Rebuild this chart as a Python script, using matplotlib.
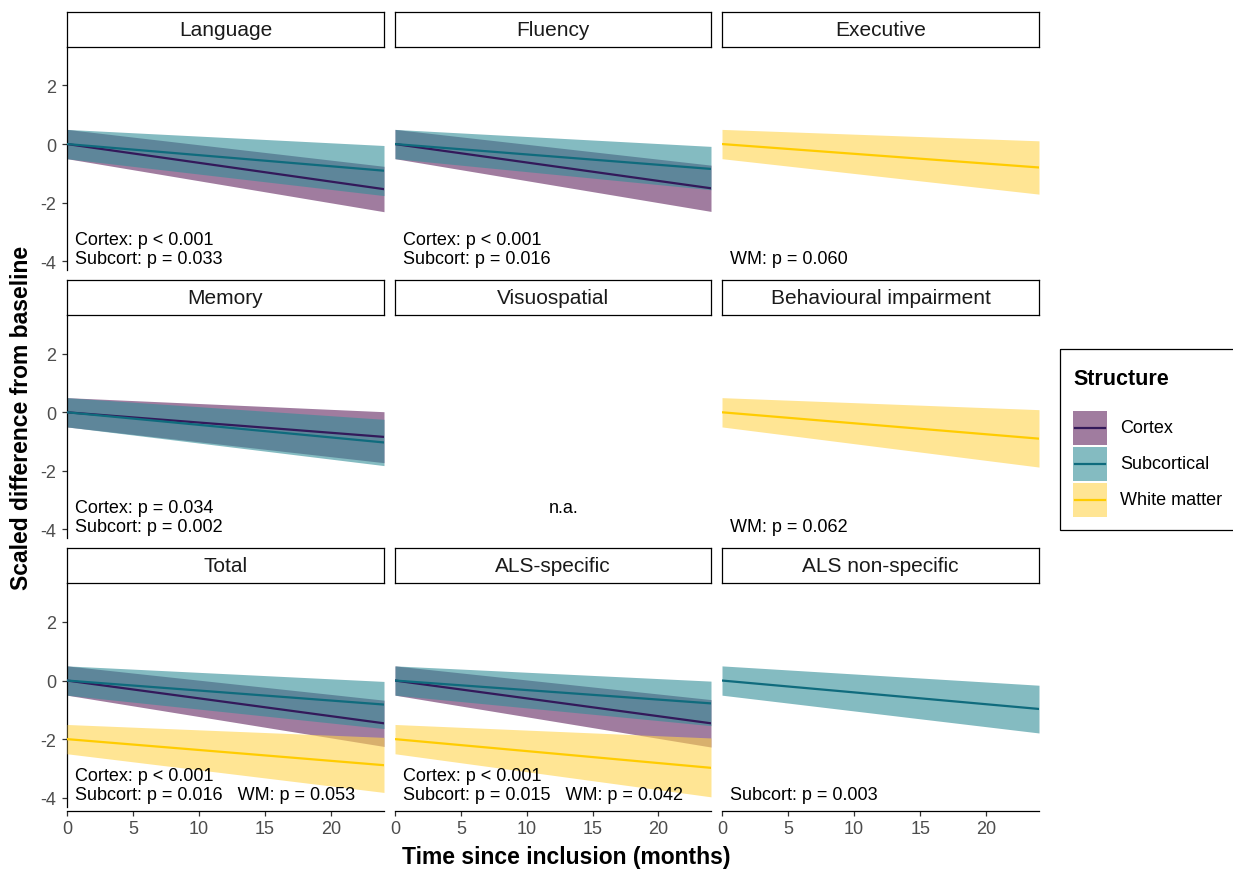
import numpy as np
import matplotlib
matplotlib.use("Agg")
import matplotlib.pyplot as plt
from matplotlib.patches import Rectangle

plt.rcParams['font.family'] = ['Liberation Sans', 'DejaVu Sans']
plt.rcParams['axes.unicode_minus'] = False

nan = np.nan

# facets in reading order
panels = ["Language", "Fluency", "Executive",
          "Memory", "Visuospatial", "Behavioural impairment",
          "Total", "ALS-specific", "ALS non-specific"]
structures = ["Cortex", "Subcortical", "White matter"]
time_points = [0, 24]

# model estimate at baseline / 24 months, with lower and upper CI (nan = not shown)
cortex_start = [0, 0, nan, 0, nan, nan, 0, 0, nan]
cortex_start_lo = [-0.5, -0.5, nan, -0.5, nan, nan, -0.5, -0.5, nan]
cortex_start_hi = [0.5, 0.5, nan, 0.5, nan, nan, 0.5, 0.5, nan]
cortex_end = [-1.54, -1.51, nan, -0.84, nan, nan, -1.46, -1.46, nan]
cortex_end_lo = [-2.31, -2.30, nan, -1.72, nan, nan, -2.25, -2.27, nan]
cortex_end_hi = [-0.76, -0.72, nan, 0.02, nan, nan, -0.67, -0.65, nan]

subcort_start = [0, 0, nan, 0, nan, nan, 0, 0, 0]
subcort_start_lo = [-0.5, -0.5, nan, -0.5, nan, nan, -0.5, -0.5, -0.5]
subcort_start_hi = [0.5, 0.5, nan, 0.5, nan, nan, 0.5, 0.5, 0.5]
subcort_end = [-0.91, -0.85, nan, -1.03, nan, nan, -0.82, -0.78, -0.97]
subcort_end_lo = [-1.76, -1.56, nan, -1.82, nan, nan, -1.64, -1.54, -1.79]
subcort_end_hi = [-0.05, -0.08, nan, -0.24, nan, nan, -0.03, -0.02, -0.16]

wm_start = [nan, nan, 0, nan, nan, 0, -2, -2, nan]
wm_start_lo = [nan, nan, -0.5, nan, nan, -0.5, -2.5, -2.5, nan]
wm_start_hi = [nan, nan, 0.5, nan, nan, 0.5, -1.5, -1.5, nan]
wm_end = [nan, nan, -0.80, nan, nan, -0.90, -2.89, -2.98, nan]
wm_end_lo = [nan, nan, -1.71, nan, nan, -1.87, -3.82, -3.97, nan]
wm_end_hi = [nan, nan, 0.11, nan, nan, 0.09, -1.94, -1.96, nan]

# p-value annotations (two lines per panel)
p_line1 = ["Cortex: p < 0.001", "Cortex: p < 0.001", "",
           "Cortex: p = 0.034", "", "",
           "Cortex: p < 0.001", "Cortex: p < 0.001", ""]
p_line2 = ["Subcort: p = 0.033", "Subcort: p = 0.016", "WM: p = 0.060",
           "Subcort: p = 0.002", "", "WM: p = 0.062",
           "Subcort: p = 0.016   WM: p = 0.053",
           "Subcort: p = 0.015   WM: p = 0.042",
           "Subcort: p = 0.003"]
missing_label = "n.a."

fill_colors = ['#612560', '#328E98', '#FFD44D']
line_colors = ['#33195A', '#0F6B7D', '#FFCC00']
fill_alpha = 0.6

series = [
    (cortex_start, cortex_start_lo, cortex_start_hi, cortex_end, cortex_end_lo, cortex_end_hi),
    (subcort_start, subcort_start_lo, subcort_start_hi, subcort_end, subcort_end_lo, subcort_end_hi),
    (wm_start, wm_start_lo, wm_start_hi, wm_end, wm_end_lo, wm_end_hi),
]

W, H = 1233, 870
fig = plt.figure(figsize=(W / 100, H / 100), dpi=100)


def px_axes(x0, y0, x1, y1):
    return fig.add_axes([x0 / W, 1 - y1 / H, (x1 - x0) / W, (y1 - y0) / H])


col_edges = [(67, 384), (395, 711), (722, 1039)]
strip_tops = [12.5, 280.75, 549]
strip_h = 35
panel_h = 223.5

for i, name in enumerate(panels):
    r, c = divmod(i, 3)
    x0, x1 = col_edges[c]
    st = strip_tops[r]

    # strip
    sax = px_axes(x0, st, x1, st + strip_h)
    sax.set_xticks([])
    sax.set_yticks([])
    for sp in sax.spines.values():
        sp.set_linewidth(0.9)
        sp.set_color('black')
    sax.text(0.5, 0.5, name, ha='center', va='center', fontsize=15,
             color='#1A1A1A', transform=sax.transAxes)

    # panel: all ribbons first, lines on top
    ax = px_axes(x0, st + strip_h, x1, st + strip_h + panel_h)
    ax.set_xlim(0, 24)
    ax.set_ylim(-4.3, 3.33)
    ax.patch.set_alpha(0)
    for k, (s, slo, shi, e, elo, ehi) in enumerate(series):
        if np.isnan(s[i]):
            continue
        ax.fill_between(time_points, [slo[i], elo[i]], [shi[i], ehi[i]],
                        color=fill_colors[k], alpha=fill_alpha, linewidth=0,
                        zorder=1 + k)
        ax.plot(time_points, [s[i], e[i]], color=line_colors[k], linewidth=1.6,
                zorder=5 + k)

    if p_line1[i]:
        ax.text(0.6, -3.25, p_line1[i], fontsize=13, va='center', ha='left', color='black', zorder=10)
    if p_line2[i]:
        ax.text(0.6, -3.9, p_line2[i], fontsize=13, va='center', ha='left', color='black', zorder=10)
    if name == "Visuospatial":
        ax.text(12.8, -3.25, missing_label, fontsize=13, va='center', ha='center', color='black')

    for sp in ax.spines.values():
        sp.set_visible(False)
    ax.tick_params(colors='#333333', labelcolor='#4D4D4D', labelsize=13,
                   length=3.5, width=0.9)
    if c == 0:
        ax.spines['left'].set_visible(True)
        ax.spines['left'].set_linewidth(0.9)
        ax.set_yticks([-4, -2, 0, 2])
        ax.tick_params(axis='y', pad=4)
    else:
        ax.set_yticks([])
    if r == 2:
        ax.spines['bottom'].set_visible(True)
        ax.spines['bottom'].set_linewidth(0.9)
        ax.spines['bottom'].set_position(('outward', 3.5))
        ax.set_xticks([0, 5, 10, 15, 20])
        ax.tick_params(axis='x', pad=3)
    else:
        ax.set_xticks([])

# axis titles
fig.text(566 / W, 1 - 858 / H, "Time since inclusion (months)", ha='center', va='center',
         fontsize=16.5, fontweight='bold')
fig.text(22 / W, 1 - 418 / H, "Scaled difference from baseline", ha='center', va='center',
         fontsize=16.5, fontweight='bold', rotation=90)

# legend drawn in pixel space
lay = fig.add_axes([0, 0, 1, 1], zorder=-1)
lay.set_xlim(0, W)
lay.set_ylim(H, 0)
lay.axis('off')
lay.add_patch(Rectangle((1060, 350), 200, 181, fill=False, edgecolor='black', linewidth=0.9))
lay.text(1073, 380, "Structure", fontsize=15.5, fontweight='bold', ha='left', va='center')
key_tops = [412, 448, 484]
for k, label in enumerate(structures):
    kt = key_tops[k]
    lay.add_patch(Rectangle((1073, kt), 34, 34, facecolor=fill_colors[k], alpha=fill_alpha,
                            linewidth=0))
    lay.plot([1075, 1105], [kt + 17, kt + 17], color=line_colors[k], linewidth=1.6)
    lay.text(1120, kt + 17, label, fontsize=13, ha='left', va='center')

fig.savefig("out.png", dpi=100)
